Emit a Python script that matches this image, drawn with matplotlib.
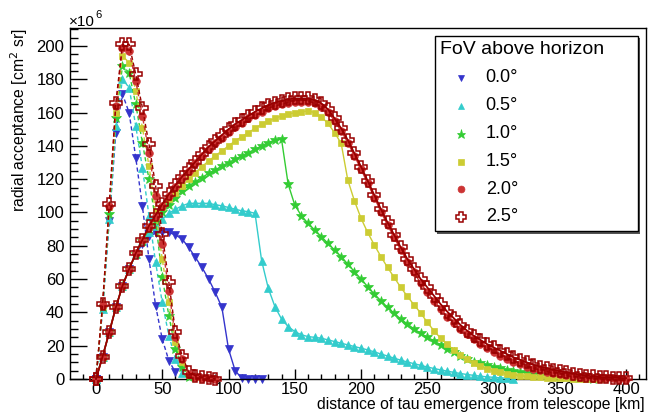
import numpy as np
import matplotlib
matplotlib.use('Agg')
import matplotlib.pyplot as plt
from matplotlib.ticker import MultipleLocator
from matplotlib.patches import Rectangle
from matplotlib.lines import Line2D

plt.rcParams['font.family'] = ['Liberation Sans', 'DejaVu Sans']

# ---------------- data (radial acceptance, units of 1e6 cm^2 sr) ----------------
step_km = 5  # sampling of distance of tau emergence [km]

fov_labels = ['0.0°', '0.5°', '1.0°', '1.5°', '2.0°', '2.5°']

# dashed curves (near peak)
near_00 = [0, 42, 95, 148, 171, 160, 133, 104, 72, 44, 24, 11, 4]
near_05 = [0, 42, 96, 152, 180, 175, 152, 127, 98, 70, 46, 26, 12, 3.5]
near_10 = [0, 43, 99, 157, 188, 184, 165, 142, 120, 95, 61, 38, 18, 7, 1.5]
near_15 = [0, 44, 103, 160, 194, 190, 173, 151, 128, 100, 72, 46, 22, 10, 2.5, 1]
near_20 = [0, 44.5, 104, 164, 199, 197, 179, 158, 136, 110, 81, 53, 25, 12, 3, 1.5, 0.8, 0.4, 0.2]
near_25 = [0, 45, 105, 166, 201, 201, 183, 163, 141, 116, 87, 58, 28, 14, 4, 2, 1, 0.5, 0.3]

# solid curves (broad)
far_00 = [0, 13.5, 28, 43, 56, 66, 75, 81, 86, 87.5, 88, 88, 86.5, 84, 79, 73, 67, 60, 52, 43,
          18, 5, 0.5, 0, 0, 0]
far_05 = [0, 13.5, 28, 43, 56, 66, 75, 83, 88, 92, 96, 99.5, 102, 104, 105.5, 105.5, 105.5, 105.5,
          104.7, 104, 103, 102, 101, 100.5, 99.5, 71, 54.5, 43.5, 36, 31.5, 28.5, 26.5, 25.5, 25,
          24.5, 23.5, 22.5, 21.5, 20.5, 19.5, 18.5, 17.5, 16.3, 15, 13.8, 12.5, 11.3, 10.2, 9.2,
          8.2, 7.2, 6.3, 5.5, 4.7, 4, 3.3, 2.7, 2.2, 1.7, 1.3, 1, 0.7, 0.5, 0.3]
far_10 = [0, 13.5, 28, 43, 56, 66, 75, 83, 90, 95, 100, 104.5, 109, 113, 116, 118.5, 121, 123.5,
          125.5, 128, 130, 132, 134, 136, 138, 140, 142, 143.5, 144, 117, 104.5, 98, 93.5, 89.5,
          85.5, 81.5, 77.5, 73.5, 69, 64.5, 60, 55.5, 51, 47, 43, 39.5, 36, 33, 30, 27.5, 25, 23,
          20.5, 18, 16, 14, 12, 10.5, 9.5, 8.5, 7.5, 6.5, 5.7, 5, 4.4, 3.8, 3.2, 2.7, 2.2, 1.8,
          1.5, 1.2, 0.9, 0.7, 0.5, 0.3]
far_15 = [0, 13.5, 28, 43, 56, 66, 75.5, 83.5, 91, 97, 103, 108, 112, 116, 120, 124, 127.5, 131,
          134, 137, 140, 143, 145.5, 148, 150.5, 153, 155, 156.5, 158, 159, 160, 160.5, 161, 160,
          157.5, 153.5, 148, 141.5, 119.5, 107, 96.5, 88, 80.5, 73.5, 67, 61, 55, 49.6, 44.5,
          39.6, 34, 29, 24.5, 20.8, 17.4, 14.5, 11.8, 9.5, 7.6, 6.2, 5, 4, 3.2, 2.6, 2.1, 1.7,
          1.4, 1.1, 0.9, 0.7, 0.5, 0.4, 0.3, 0.2, 0.15, 0.1, 0.05]
far_20 = [0, 13.5, 28, 43, 56, 66, 75.5, 83.5, 91, 98, 104, 110, 115.5, 120.5, 125, 129.5, 134,
          138, 141.5, 145, 148.5, 151.5, 154, 156.5, 158.5, 160.5, 162.5, 164, 165, 166, 166.5,
          166.5, 166.5, 165.5, 163.5, 160.5, 155, 149, 142, 134, 126, 117.5, 109, 100.5, 92.5,
          85, 77.5, 70.5, 64, 57.5, 52, 47, 42, 37.5, 33.5, 30, 27, 24, 21, 18.5, 16, 14, 12,
          10, 8.8, 7.5, 6.2, 5.2, 4.3, 3.5, 2.8, 2.2, 1.7, 1.3, 1, 0.8, 0.6, 0.5, 0.4, 0.3, 0.2]
far_25 = [0, 13.5, 28, 43, 56, 66, 75.5, 83.5, 92, 98.5, 105, 111, 116.5, 121.5, 126, 130.5, 135,
          139.5, 143, 146.5, 150, 153, 155.5, 158, 160.5, 162.5, 164.5, 166, 167, 168, 168.5,
          168.5, 168.5, 167.5, 165.5, 162, 156.5, 150.5, 143.5, 135.5, 127.5, 119, 110.5, 102,
          94, 86.5, 79, 72, 66, 60, 55, 50, 45, 40.5, 36.5, 32.5, 29, 26, 23.5, 21, 19, 17, 15,
          13, 11.5, 10, 8.5, 7.5, 6.5, 5.6, 4.8, 4, 3.3, 2.6, 2, 1.6, 1.2, 1, 0.8, 0.6, 0.5]

near_series = [near_00, near_05, near_10, near_15, near_20, near_25]
far_series = [far_00, far_05, far_10, far_15, far_20, far_25]

# ---------------- styles ----------------
colors = ['#3434cc', '#33cccc', '#33cc33', '#cccc33', '#cc3333', '#990000']
markers = ['v', '^', '*', 's', 'o', 'P']
msizes = [5.5, 5.5, 7.5, 4.2, 5.5, 8]

W, H = 655, 413
fig = plt.figure(figsize=(W / 100, H / 100), dpi=100)
ax = fig.add_axes([70 / W, 1 - 379 / H, 576 / W, 351 / H])


def mstyle(i):
    if markers[i] == 'P':
        return dict(marker='P', ms=msizes[i], mfc='none', mec=colors[i], mew=1.1)
    return dict(marker=markers[i], ms=msizes[i], mfc=colors[i], mec=colors[i], mew=0.5)


for i in range(6):
    yd = near_series[i]
    xd = np.arange(len(yd)) * step_km
    ax.plot(xd, yd, ls='--', dashes=(3, 2), lw=1.0, color=colors[i], clip_on=False,
            zorder=2 + i, **mstyle(i))
    ys = far_series[i]
    xs = np.arange(len(ys)) * step_km
    ax.plot(xs, ys, ls='-', lw=1.0 if i < 5 else 1.3, color=colors[i], clip_on=False,
            zorder=2 + i, **mstyle(i))

ax.set_xlim(-19.6, 415)
ax.set_ylim(0, 210.8)

ax.xaxis.set_major_locator(MultipleLocator(50))
ax.xaxis.set_minor_locator(MultipleLocator(10))
ax.yaxis.set_major_locator(MultipleLocator(20))
ax.yaxis.set_minor_locator(MultipleLocator(5))

ax.tick_params(axis='x', which='major', direction='in', length=7.5, width=1, labelsize=12, pad=2.5,
               top=False)
ax.tick_params(axis='x', which='minor', direction='in', length=3.8, width=1, top=False)
ax.tick_params(axis='y', which='major', direction='in', length=12, width=1, labelsize=12, pad=4,
               right=False)
ax.tick_params(axis='y', which='minor', direction='in', length=6, width=1, right=False)
for s in ax.spines.values():
    s.set_linewidth(1.0)

# axis titles
fig.text(645 / W, 1 - 404 / H, 'distance of tau emergence from telescope [km]',
         ha='right', va='center', fontsize=11.3)
fig.text(19 / W, 1 - 28 / H, 'radial acceptance [cm$^{2}$ sr]', rotation=90,
         ha='center', va='top', fontsize=11.3)
fig.text(69 / W, 1 - 21.5 / H, '×10', ha='left', va='center', fontsize=11)
fig.text(95.5 / W, 1 - 15 / H, '6', ha='left', va='center', fontsize=8)

# legend (manual, ROOT-like with shadow)
lx0, lx1, ly0, ly1 = 435, 638, 36, 231
fig.patches.append(Rectangle(((lx0 + 2.5) / W, 1 - (ly1 + 2.5) / H), (lx1 - lx0) / W, (ly1 - ly0) / H,
                             transform=fig.transFigure, facecolor='#555555', edgecolor='none',
                             zorder=20))
fig.patches.append(Rectangle((lx0 / W, 1 - ly1 / H), (lx1 - lx0) / W, (ly1 - ly0) / H,
                             transform=fig.transFigure, facecolor='white', edgecolor='black',
                             lw=1.0, zorder=21))
fig.text(440 / W, 1 - 50 / H, 'FoV above horizon', ha='left', va='center', fontsize=14, zorder=22)
entry_y = [77.7, 106, 134, 161.7, 189.3, 216.7]
for i, lab in enumerate(fov_labels):
    st = mstyle(i)
    st['ms'] = st['ms'] * 0.9
    fig.add_artist(Line2D([460.7 / W], [1 - entry_y[i] / H], transform=fig.transFigure,
                          ls='none', color=colors[i], zorder=22, **st))
    fig.text(485.7 / W, 1 - entry_y[i] / H, lab, ha='left', va='center', fontsize=13, zorder=22)

fig.savefig('out.png', dpi=100)
